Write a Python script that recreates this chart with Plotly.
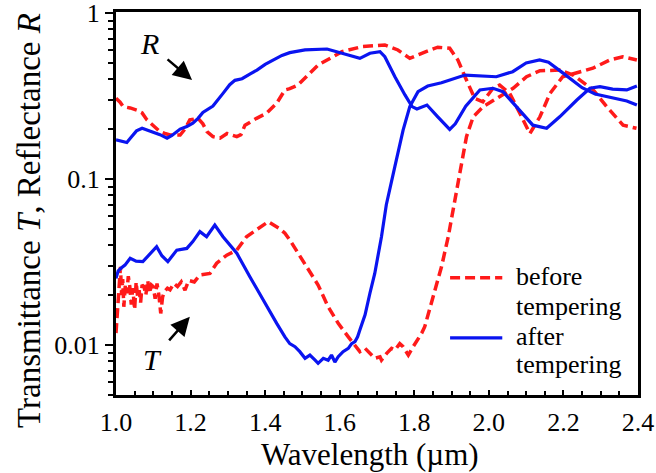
import plotly.graph_objects as go

# ---------------- data ----------------
# after tempering, reflectance R
after_R_x = [1.000, 1.013, 1.029, 1.040, 1.055, 1.070, 1.086, 1.099, 1.118, 1.137, 1.150,
             1.172, 1.190, 1.206, 1.220, 1.233, 1.247, 1.260, 1.287, 1.305, 1.319, 1.338,
             1.360, 1.378, 1.400, 1.421, 1.445, 1.466, 1.507, 1.566, 1.606, 1.654, 1.681,
             1.708, 1.721, 1.748, 1.775, 1.794, 1.807, 1.834, 1.863, 1.895, 1.910, 1.922,
             1.938, 1.976, 2.011, 2.038, 2.075, 2.118, 2.155, 2.190, 2.236, 2.271, 2.298,
             2.332, 2.370, 2.397]
after_R_y = [0.172, 0.170, 0.166, 0.178, 0.195, 0.202, 0.196, 0.193, 0.185, 0.176, 0.183,
             0.200, 0.207, 0.217, 0.232, 0.252, 0.262, 0.275, 0.328, 0.370, 0.393, 0.402,
             0.430, 0.453, 0.490, 0.521, 0.555, 0.577, 0.599, 0.607, 0.572, 0.533, 0.572,
             0.585, 0.545, 0.413, 0.321, 0.273, 0.264, 0.279, 0.237, 0.199, 0.215, 0.237,
             0.275, 0.344, 0.352, 0.336, 0.273, 0.211, 0.202, 0.237, 0.299, 0.352, 0.360,
             0.348, 0.344, 0.363]

# after tempering, transmittance T
after_T_x = [1.000, 1.006, 1.013, 1.024, 1.038, 1.054, 1.072, 1.091, 1.109, 1.123, 1.139,
             1.163, 1.190, 1.206, 1.225, 1.243, 1.255, 1.265, 1.287, 1.324, 1.359, 1.394,
             1.431, 1.453, 1.466, 1.480, 1.493, 1.507, 1.520, 1.534, 1.542, 1.556, 1.569,
             1.578, 1.587, 1.596, 1.609, 1.623, 1.632, 1.641, 1.648, 1.654, 1.668, 1.681,
             1.694, 1.712, 1.725, 1.748, 1.770, 1.788, 1.810, 1.836, 1.873, 1.936, 1.980,
             2.020, 2.064, 2.100, 2.136, 2.160, 2.200, 2.250, 2.285, 2.330, 2.370, 2.397]
after_T_y = [0.0252, 0.0280, 0.0290, 0.0303, 0.0333, 0.0320, 0.0318, 0.0355, 0.0391, 0.0345, 0.0318,
             0.0373, 0.0382, 0.0420, 0.0482, 0.0449, 0.0490, 0.0528, 0.0449, 0.0357, 0.0258, 0.0187,
             0.0135, 0.0112, 0.0102, 0.00977, 0.00912, 0.00832, 0.0087, 0.0081, 0.00776, 0.00832, 0.0081,
             0.0087, 0.0079, 0.0085, 0.00912, 0.00955, 0.0102, 0.0105, 0.0112, 0.0123, 0.0152, 0.0205,
             0.0270, 0.0449, 0.070, 0.119, 0.197, 0.273, 0.336, 0.363, 0.380, 0.423, 0.417,
             0.413, 0.443, 0.500, 0.521, 0.505, 0.433, 0.355, 0.325, 0.310, 0.295, 0.279]

# before tempering, reflectance R
before_R_x = [1.000, 1.011, 1.019, 1.038, 1.056, 1.070, 1.083, 1.099, 1.118, 1.131, 1.145,
              1.172, 1.185, 1.198, 1.220, 1.233, 1.244, 1.260, 1.279, 1.298, 1.324, 1.335,
              1.346, 1.377, 1.404, 1.431, 1.453, 1.466, 1.488, 1.542, 1.606, 1.660, 1.721,
              1.756, 1.788, 1.820, 1.863, 1.895, 1.917, 1.936, 1.962, 1.984, 2.011, 2.029,
              2.056, 2.083, 2.110, 2.137, 2.164, 2.198, 2.236, 2.279, 2.324, 2.359, 2.397]
before_R_y = [0.306, 0.290, 0.273, 0.268, 0.260, 0.250, 0.227, 0.210, 0.193, 0.188, 0.184,
              0.184, 0.200, 0.227, 0.232, 0.215, 0.193, 0.180, 0.176, 0.188, 0.180, 0.185,
              0.211, 0.232, 0.249, 0.286, 0.344, 0.350, 0.368, 0.486, 0.585, 0.627, 0.642,
              0.599, 0.533, 0.572, 0.622, 0.613, 0.521, 0.413, 0.306, 0.292, 0.352, 0.368,
              0.328, 0.249, 0.188, 0.237, 0.328, 0.413, 0.437, 0.465, 0.521, 0.545, 0.521]

# before tempering, transmittance T
before_T_x = [1.000, 1.004, 1.006, 1.009, 1.012, 1.015, 1.018, 1.021, 1.025, 1.029, 1.033,
              1.037, 1.041, 1.045, 1.050, 1.054, 1.058, 1.062, 1.066, 1.070, 1.075, 1.080,
              1.085, 1.090, 1.095, 1.100, 1.105, 1.110, 1.115, 1.120, 1.125, 1.130, 1.138,
              1.145, 1.155, 1.165, 1.175, 1.185, 1.195, 1.210, 1.225, 1.252, 1.270, 1.297,
              1.324, 1.350, 1.377, 1.408, 1.440, 1.453, 1.466, 1.489, 1.516, 1.542, 1.569,
              1.596, 1.623, 1.645, 1.654, 1.668, 1.681, 1.694, 1.708, 1.712, 1.726, 1.739,
              1.748, 1.761, 1.770, 1.784, 1.797, 1.806, 1.820, 1.828, 1.851, 1.873, 1.891,
              1.909, 1.922, 1.940, 1.958, 1.985, 2.021, 2.065, 2.101, 2.137, 2.190, 2.226,
              2.280, 2.316, 2.360, 2.396]
before_T_y = [0.0118, 0.0160, 0.0187, 0.0240, 0.0296, 0.0200, 0.0250, 0.0170, 0.0230, 0.0205, 0.0260,
              0.0225, 0.0175, 0.0220, 0.0163, 0.0240, 0.0195, 0.0214, 0.0180, 0.0230, 0.0225, 0.0200,
              0.0245, 0.0205, 0.0230, 0.0225, 0.0190, 0.0235, 0.0200, 0.0155, 0.0195, 0.0210, 0.0220,
              0.0215, 0.0235, 0.0225, 0.0240, 0.0214, 0.0245, 0.0240, 0.0264, 0.0270, 0.0311, 0.0348,
              0.0373, 0.0449, 0.0493, 0.0553, 0.0500, 0.0471, 0.0430, 0.0357, 0.0283, 0.0230, 0.0170,
              0.0135, 0.0112, 0.00977, 0.00912, 0.00955, 0.00891, 0.00832, 0.0085, 0.00812, 0.00891, 0.00955,
              0.00933, 0.0102, 0.00977, 0.0087, 0.00977, 0.0105, 0.0118, 0.0129, 0.0195, 0.0296, 0.0449,
              0.0747, 0.113, 0.180, 0.237, 0.273, 0.306, 0.352, 0.413, 0.449, 0.453, 0.423,
              0.344, 0.273, 0.211, 0.202]

y_major_vals = [0.01, 0.1, 1]
y_major_text = ["0.01", "0.1", "1"]
y_minor_vals = [0.005, 0.006, 0.007, 0.008, 0.009,
                0.02, 0.03, 0.04, 0.05, 0.06, 0.07, 0.08, 0.09,
                0.2, 0.3, 0.4, 0.5, 0.6, 0.7, 0.8, 0.9]

legend_labels = [("before", "tempering"), ("after", "tempering")]
x_title = "Wavelength (\u00b5m)"
y_title = "Transmittance <i>T</i>, Reflectance <i>R</i>"

RED = "#ff1a1a"
BLUE = "#0a14f0"
FONT = "Liberation Serif, Times New Roman, serif"
RED_LINE = dict(color=RED, width=3.5, dash="10px,5px")
BLUE_LINE = dict(color=BLUE, width=3.2)

fig = go.Figure()
fig.add_trace(go.Scatter(x=before_R_x, y=before_R_y, mode="lines", name="before tempering",
                         line=RED_LINE, showlegend=False))
fig.add_trace(go.Scatter(x=before_T_x, y=before_T_y, mode="lines", name="before tempering",
                         line=RED_LINE, showlegend=False))
fig.add_trace(go.Scatter(x=after_R_x, y=after_R_y, mode="lines", name="after tempering",
                         line=BLUE_LINE, showlegend=False))
fig.add_trace(go.Scatter(x=after_T_x, y=after_T_y, mode="lines", name="after tempering",
                         line=BLUE_LINE, showlegend=False))

fig.update_layout(
    width=656, height=473,
    margin=dict(l=116, r=18, t=12, b=78),
    paper_bgcolor="white", plot_bgcolor="white",
    font=dict(family=FONT, size=26, color="black"),
    showlegend=False,
)

fig.update_xaxes(
    range=[1.0, 2.4], dtick=0.2, tick0=1.0, tickformat=".1f",
    ticks="inside", ticklen=5, tickwidth=2, tickcolor="black",
    minor=dict(dtick=0.05, ticks="inside", ticklen=4, tickwidth=2, tickcolor="black"),
    showline=True, linewidth=3, linecolor="black", mirror=True,
    showgrid=False, zeroline=False, automargin=False,
    ticklabeloverflow="allow", ticklabelstandoff=2,
    tickfont=dict(size=26, family=FONT),
)
fig.update_yaxes(
    type="log", range=[-2.301, 0.006],
    tickmode="array", tickvals=y_major_vals, ticktext=y_major_text,
    ticks="outside", ticklen=8, tickwidth=2, tickcolor="black",
    minor=dict(tickmode="array", tickvals=y_minor_vals, ticks="outside", ticklen=5,
               tickwidth=2, tickcolor="black"),
    showline=True, linewidth=3, linecolor="black", mirror=True,
    showgrid=False, zeroline=False, automargin=False,
    ticklabeloverflow="allow",
    tickfont=dict(size=26, family=FONT),
)

# axis titles
fig.add_annotation(x=0.4866, y=-0.155, xref="paper", yref="paper", text=x_title,
                   showarrow=False, xanchor="center", yanchor="middle",
                   font=dict(size=31, family=FONT))
fig.add_annotation(x=-0.1667, y=0.457, xref="paper", yref="paper", text=y_title,
                   showarrow=False, xanchor="center", yanchor="middle", textangle=-90,
                   font=dict(size=33, family=FONT))

# arrows and labels
fig.add_annotation(x=1.204, y=-0.404, xref="x", yref="y", text="", showarrow=True,
                   ax=-26, ay=-22, arrowhead=2, arrowsize=1.5, arrowwidth=2.5, arrowcolor="black")
fig.add_annotation(x=1.091, y=-0.181, xref="x", yref="y", text="<i>R</i>", showarrow=False,
                   font=dict(size=30, family=FONT))
fig.add_annotation(x=1.198, y=-1.83, xref="x", yref="y", text="", showarrow=True,
                   ax=-22, ay=25, arrowhead=2, arrowsize=1.5, arrowwidth=2.5, arrowcolor="black")
fig.add_annotation(x=1.099, y=-2.09, xref="x", yref="y", text="<i>T</i>", showarrow=False,
                   font=dict(size=30, family=FONT))

# legend (drawn as sample lines + text, to match the compact line spacing)
leg_line_y = [0.306, 0.149]
leg_text_y = [(0.309, 0.230), (0.153, 0.080)]
leg_styles = [RED_LINE, BLUE_LINE]
for (l1, l2), ly, (t1, t2), st in zip(legend_labels, leg_line_y, leg_text_y, leg_styles):
    fig.add_shape(type="line", xref="paper", yref="paper", x0=0.640, x1=0.740, y0=ly, y1=ly,
                  line=st)
    for txt, ty in ((l1, t1), (l2, t2)):
        fig.add_annotation(x=0.763, y=ty, xref="paper", yref="paper", text=txt,
                           showarrow=False, xanchor="left", yanchor="middle",
                           font=dict(size=26, family=FONT))

fig.write_html("out.html")
